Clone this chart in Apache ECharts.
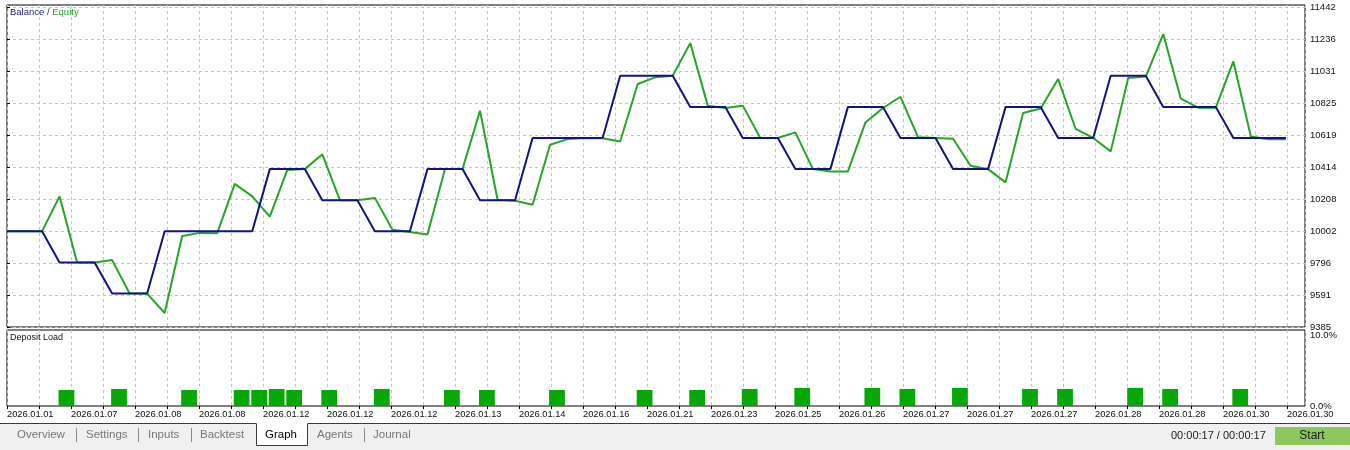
<!DOCTYPE html>
<html><head><meta charset="utf-8">
<script src="https://cdn.jsdelivr.net/npm/echarts@6/dist/echarts.min.js"></script>
<style>html,body{margin:0;padding:0;background:#fff}#c{width:1350px;height:450px}</style>
</head><body><div id="c"></div>
<script>
// ---- data ----
const balance = [
 10000,10000,10000, 9800,9800,9800, 9600,9600,9600,
 10000,10000,10000,10000,10000,10000, 10400,10400,10400,
 10200,10200,10200, 10000,10000,10000, 10400,10400,10400,
 10200,10200,10200, 10600,10600,10600,10600,10600,
 11000,11000,11000,11000, 10800,10800,10800, 10600,10600,10600,
 10400,10400,10400, 10800,10800,10800, 10600,10600,10600,
 10400,10400,10400, 10800,10800,10800, 10600,10600,10600,
 11000,11000,11000, 10800,10800,10800,10800, 10600,10600,10600,10600
];
const equity = [
 10000,10000,10000,10225,9800,9800,9815,9600,9600,9475,
 9970,9990,9988,10305,10225,10095,10395,10400,10495,10200,
 10200,10215,10010,9995,9980,10400,10400,10775,10203,10197,
 10171,10557,10593,10600,10598,10578,10947,10990,11000,11210,
 10808,10793,10808,10600,10600,10636,10400,10385,10385,10700,
 10793,10865,10605,10600,10595,10422,10400,10315,10761,10790,
 10979,10658,10600,10514,10986,10995,11268,10853,10795,10795,
 11092,10610,10592,10592
];
const loadStart = [3,6,10,13,14,15,16,18,21,25,27,31,36,39,42,45,49,51,54,58,60,64,66,70];
const loadValue = [2.25,2.4,2.25,2.25,2.25,2.4,2.25,2.25,2.4,2.25,2.25,2.25,2.25,2.25,2.4,2.55,2.55,2.4,2.55,2.4,2.4,2.55,2.4,2.4];
const dateLabels = ['2026.01.01','2026.01.07','2026.01.08','2026.01.08','2026.01.12','2026.01.12','2026.01.12','2026.01.13','2026.01.14','2026.01.16','2026.01.21','2026.01.23','2026.01.25','2026.01.26','2026.01.27','2026.01.27','2026.01.27','2026.01.28','2026.01.28','2026.01.30','2026.01.30'];
const yTicks = [9385,9591,9796,10002,10208,10414,10619,10825,11031,11236,11442];
const loadTicks = [0,10];
const tabs = ['Overview','Settings','Inputs','Backtest','Graph','Agents','Journal'];

// ---- chart ----
const FONT = '"Liberation Sans", Arial, sans-serif';
const X_MAX = 74.09, X_STEP = 1.8265;
const chart = echarts.init(document.getElementById('c'), null, {renderer:'canvas'});
const dashed = {show:true, lineStyle:{color:'#c4c4c4', type:[3,3], width:1}};
const idx = balance.map((_, i) => i);

const tabX = [17,86,148,200,265,317,373];
const sepX = [76,138,191,364];
const graphic = [
  {type:'rect', z:-10, shape:{x:0,y:424,width:1350,height:26}, style:{fill:'#f0f0f0'}},
  {type:'line', shape:{x1:0,y1:423.5,x2:256.5,y2:423.5}, style:{stroke:'#3a3a3a',lineWidth:1}},
  {type:'line', shape:{x1:307.5,y1:423.5,x2:1350,y2:423.5}, style:{stroke:'#3a3a3a',lineWidth:1}},
  {type:'rect', shape:{x:256.5,y:423.5,width:51,height:22}, style:{fill:'#fff'}},
  {type:'polyline', shape:{points:[[256.5,423.5],[256.5,445.5],[307.5,445.5],[307.5,423.5]]}, style:{stroke:'#3a3a3a',lineWidth:1,fill:null}},
  {type:'rect', shape:{x:1275,y:427,width:75,height:18}, style:{fill:'#8dc760'}},
  {type:'text', style:{text:'Start', x:1312, y:436, align:'center', verticalAlign:'middle', fill:'#1a1a1a', font:'12px '+FONT}},
  {type:'text', style:{text:'00:00:17 / 00:00:17', x:1171, y:436, align:'left', verticalAlign:'middle', fill:'#222', font:'11px '+FONT}}
];
tabs.forEach((t,i) => graphic.push({type:'text', style:{text:t, x:tabX[i], y:434.5, align:'left', verticalAlign:'middle', fill: t==='Graph' ? '#000' : '#777', font:'11.5px '+FONT}}));
sepX.forEach(x => graphic.push({type:'line', shape:{x1:x+0.5,y1:428,x2:x+0.5,y2:442}, style:{stroke:'#8a8a8a',lineWidth:1}}));

const option = {
  backgroundColor:'#fff',
  animation:false,
  title:[
    {text:'{b|Balance} {s|/} {e|Equity}', left:10, top:7, padding:0, textStyle:{fontSize:9.5, fontFamily:FONT, fontWeight:'normal',
      rich:{b:{color:'#1c1c86',fontSize:9.5,fontFamily:FONT}, s:{color:'#333',fontSize:9.5,fontFamily:FONT}, e:{color:'#2aa62a',fontSize:9.5,fontFamily:FONT}}}},
    {text:'Deposit Load', left:10, top:333, padding:0, textStyle:{fontSize:9, fontFamily:FONT, fontWeight:'normal', color:'#111'}}
  ],
  grid:[
    {left:7, right:45, top:5, height:322, show:true, borderColor:'#000', borderWidth:1},
    {left:7, right:45, top:330, height:76, show:true, borderColor:'#000', borderWidth:1}
  ],
  xAxis:[
    {type:'value', gridIndex:0, min:0, max:X_MAX, interval:X_STEP, axisLabel:{show:false}, axisTick:{show:false}, axisLine:{show:false}, splitLine:dashed},
    {type:'value', gridIndex:1, min:0, max:X_MAX, interval:X_STEP, axisLine:{show:false},
      axisTick:{show:true, length:3, lineStyle:{color:'#000'}},
      axisLabel:{show:true, align:'left', margin:4, fontSize:9.3, fontFamily:FONT, color:'#111', showMaxLabel:false,
        formatter: v => { const k = Math.round(v / X_STEP); return (k % 2 === 0 && dateLabels[k/2]) ? dateLabels[k/2] : ''; }},
      splitLine:dashed}
  ],
  yAxis:[
    {type:'value', gridIndex:0, position:'right', min:9385, max:11455, axisLine:{show:false},
      axisTick:{show:true, length:3, customValues:yTicks, lineStyle:{color:'#000'}},
      axisLabel:{customValues:yTicks, margin:5, fontSize:9.5, fontFamily:FONT, color:'#111', formatter: v => String(Math.round(v))},
      splitLine:dashed},
    {type:'value', gridIndex:1, position:'right', min:0, max:10.7, axisLine:{show:false},
      axisTick:{show:false, customValues:loadTicks},
      axisLabel:{customValues:loadTicks, margin:5, fontSize:9.5, fontFamily:FONT, color:'#111', formatter: v => v.toFixed(1)+'%'},
      splitLine:{show:false}}
  ],
  series:[
    {type:'line', name:'Equity', xAxisIndex:0, yAxisIndex:0, data: idx.map(i => [i, equity[i]]), showSymbol:false, symbol:'none',
      lineStyle:{color:'#26a526', width:2}, z:2},
    {type:'line', name:'Balance', xAxisIndex:0, yAxisIndex:0, data: idx.map(i => [i, balance[i]]), showSymbol:false, symbol:'none',
      lineStyle:{color:'#14147f', width:2}, z:3},
    {type:'custom', name:'Deposit Load', xAxisIndex:1, yAxisIndex:1, data: loadStart.map((s,i) => [s, loadValue[i]]),
      renderItem: (params, api) => {
        const p0 = api.coord([api.value(0), 0]);
        const p1 = api.coord([api.value(0), api.value(1)]);
        const w = api.size([1, 0])[0];
        return {type:'rect', shape:{x:p0[0]-1, y:p1[1], width:w*0.9, height:p0[1]-p1[1]}, style:{fill:'#06a806'}};
      }}
  ],
  graphic: graphic
};
chart.setOption(option);
</script></body></html>
